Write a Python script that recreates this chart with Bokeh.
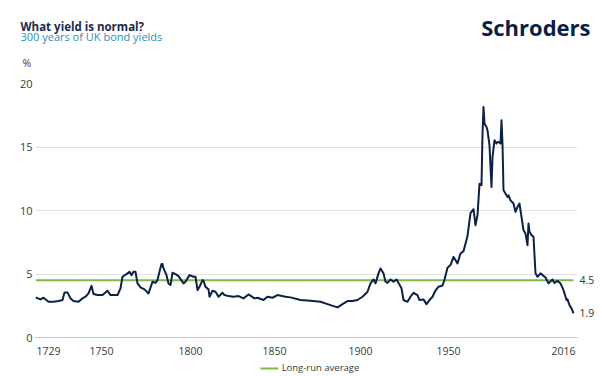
from bokeh.plotting import figure
from bokeh.models import Range1d, FixedTicker, LinearAxis, Title
from bokeh.embed import file_html
from bokeh.resources import INLINE

# observation number along the (category) time axis and UK bond yield, %
obs = [0, 5, 8, 13, 18, 23, 27, 29, 32, 35, 38, 43, 47, 50, 53, 56, 58, 62, 67, 72,
       75, 82, 85, 87, 92, 94, 96, 98, 100, 102, 105, 109, 113, 117, 120, 122, 124, 126,
       127, 128, 131, 133, 135, 137, 140, 143, 148, 150, 154, 158, 160, 162, 164, 167,
       168, 170, 173, 174, 177, 180, 183, 187, 189, 193, 198, 203, 208, 213, 219, 222,
       228, 232, 237, 242, 250, 255, 265, 275, 285, 295, 302, 307, 312, 317, 322, 327,
       332, 335, 338, 340, 343, 345, 348, 350, 352, 355, 358, 361, 363, 366, 368, 372,
       375, 378, 382, 384, 388, 391, 394, 397, 400, 403, 407, 409, 412, 415, 418, 422,
       425, 428, 432, 435, 438, 440, 442, 444, 446, 447, 448, 449, 451, 452, 454, 455,
       456, 457, 459, 461, 462, 463, 465, 466, 467, 468, 470, 472, 473, 475, 478, 480,
       482, 484, 486, 488, 490, 492, 493, 494, 496, 498, 500, 502, 505, 510, 513, 517,
       519, 522, 525, 528, 531, 532, 534, 536, 538, 541]
yields = [3.16, 3.00, 3.13, 2.81, 2.81, 2.87, 2.95, 3.55, 3.55, 3.08, 2.87, 2.81, 3.08,
          3.21, 3.47, 4.07, 3.42, 3.34, 3.34, 3.68, 3.34, 3.34, 3.87, 4.78, 5.05, 5.17,
          4.91, 5.17, 5.17, 4.26, 3.95, 3.79, 3.47, 4.39, 4.30, 4.52, 5.17, 5.78, 5.78,
          5.44, 4.91, 4.26, 4.13, 5.10, 4.99, 4.83, 4.26, 4.39, 4.91, 4.78, 4.78, 3.73,
          3.99, 4.52, 4.47, 3.99, 3.79, 3.21, 3.68, 3.60, 3.21, 3.52, 3.34, 3.26, 3.21,
          3.26, 3.08, 3.39, 3.08, 3.13, 2.95, 3.21, 3.13, 3.34, 3.21, 3.16, 2.95, 2.90,
          2.81, 2.55, 2.37, 2.63, 2.87, 2.87, 2.95, 3.21, 3.60, 4.26, 4.57, 4.26, 5.05,
          5.44, 5.05, 4.39, 4.30, 4.57, 4.39, 4.57, 4.30, 3.87, 2.95, 2.81, 3.21, 3.52,
          3.34, 2.95, 3.00, 2.63, 2.95, 3.21, 3.70, 4.00, 4.10, 4.55, 5.50, 5.70, 6.35,
          5.83, 6.62, 6.80, 8.00, 9.80, 10.10, 8.84, 9.63, 12.10, 12.00, 16.00, 18.14,
          16.84, 16.57, 16.31, 15.13, 13.43, 11.86, 14.21, 15.53, 15.27, 15.40, 15.40,
          15.27, 17.10, 15.27, 11.60, 11.34, 11.07, 11.20, 10.80, 10.55, 9.89, 10.28,
          10.55, 9.50, 8.45, 8.19, 7.27, 8.98, 8.32, 8.06, 7.93, 5.05, 4.78, 5.05, 4.73,
          4.26, 4.57, 4.30, 4.47, 4.26, 3.73, 2.95, 3.00, 2.55, 2.29, 1.90]
n = min(len(obs), len(yields))
obs, yields = obs[:n], yields[:n]

tick_obs = [13, 66, 155, 239, 325, 413, 528]
tick_labels = ["1729", "1750", "1800", "1850", "1900", "1950", "2016"]
y_ticks = [0, 5, 10, 15, 20]
long_run_avg = 4.5
avg_label = "Long-run average"

NAVY = "#0b2244"
GREEN = "#7dbb4a"
FONT = "Open Sans"
TXT = "#3a3a3a"

# legend key layout along the category axis (sample line, then centre of its text)
KEY_FROM, KEY_TO, KEY_TEXT = 225, 243, 285


def plain_axis(ax, size="10.5px"):
    ax.major_tick_line_color = None
    ax.minor_tick_line_color = None
    ax.major_tick_out = 0
    ax.major_tick_in = 0
    ax.minor_tick_out = 0
    ax.minor_tick_in = 0
    ax.major_label_text_font = FONT
    ax.major_label_text_font_size = size
    ax.major_label_text_color = TXT


p = figure(width=602, height=376, output_backend="svg", toolbar_location=None,
           x_range=Range1d(0, 542), y_range=Range1d(0, 20), title=None,
           min_border_left=35, min_border_right=25, min_border_top=83,
           min_border_bottom=38)
p.outline_line_color = None
p.background_fill_color = "white"
p.border_fill_color = "white"

p.yaxis.ticker = FixedTicker(ticks=y_ticks)
p.yaxis.axis_line_color = None
plain_axis(p.yaxis[0], "11px")
p.yaxis.major_label_standoff = 3

p.xaxis.ticker = FixedTicker(ticks=tick_obs)
p.xaxis.major_label_overrides = {t: l for t, l in zip(tick_obs, tick_labels)}
p.xaxis.axis_line_color = "#c4c4c4"
p.xaxis.axis_line_width = 1.2
plain_axis(p.xaxis[0])
p.xaxis.major_label_standoff = 9
# a tiny, blank axis title only adds the gap down to the key row
p.xaxis.axis_label = " "
p.xaxis.axis_label_text_font_size = "4px"
p.xaxis.axis_label_standoff = 3

# right-hand axis carrying the end-value labels
end_axis = LinearAxis(ticker=FixedTicker(ticks=[long_run_avg, yields[-1]]))
end_axis.axis_line_color = None
plain_axis(end_axis)
end_axis.major_label_standoff = 2
p.add_layout(end_axis, "right")

# key row: green sample line (axis line) and its text (tick label)
key_axis = LinearAxis(ticker=FixedTicker(ticks=[KEY_TEXT]), bounds=(KEY_FROM, KEY_TO))
key_axis.axis_line_color = GREEN
key_axis.axis_line_width = 2
plain_axis(key_axis, "9.5px")
key_axis.major_label_overrides = {KEY_TEXT: avg_label}
key_axis.major_label_standoff = -8
p.add_layout(key_axis, "below")

p.xgrid.grid_line_color = None
p.ygrid.ticker = FixedTicker(ticks=y_ticks[1:])
p.ygrid.grid_line_color = "#e1e1e1"
p.ygrid.grid_line_width = 1

p.line([obs[0], obs[-1]], [long_run_avg, long_run_avg], line_color=GREEN, line_width=2)
p.line(obs, yields, line_color=NAVY, line_width=2, line_join="round")

# titles stacked above the frame (first added sits closest to the frame)
p.add_layout(Title(text="%", align="left", offset=-13, standoff=28, text_font=FONT,
                   text_font_style="normal", text_font_size="10.5px",
                   text_color=TXT), "above")
p.add_layout(Title(text="300 years of UK bond yields", align="left", offset=-15,
                   standoff=-8, text_font=FONT, text_font_style="normal",
                   text_font_size="11px", text_color="#2f8fc0"), "above")
p.add_layout(Title(text="What yield is normal?", align="left", offset=-15, standoff=-6,
                   text_font=FONT, text_font_style="bold", text_font_size="11.5px",
                   text_color="#1c2b4b"), "above")
p.add_layout(Title(text="Schroders", align="right", offset=-13, standoff=-44,
                   text_font=FONT, text_font_style="bold", text_font_size="22px",
                   text_color="#0b1f45"), "above")

open("out.html", "w").write(file_html(p, INLINE))
